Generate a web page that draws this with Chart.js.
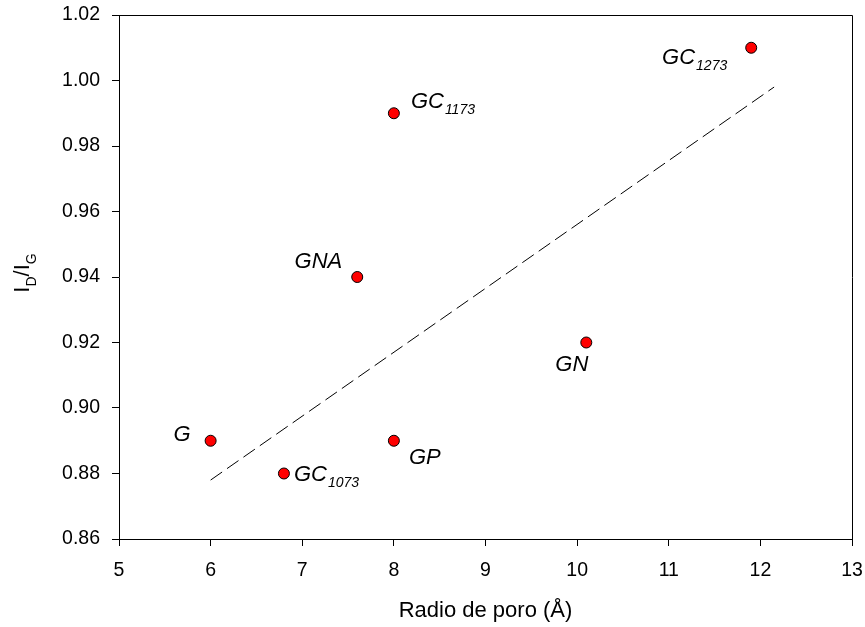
<!DOCTYPE html>
<html lang="es">

<head>
    <meta charset="UTF-8">
    <title>ID/IG vs radio de poro</title>
    <script src="https://cdn.jsdelivr.net/npm/chart.js"></script>
    <style>
        html, body { margin: 0; padding: 0; background: #fff; }
        #box { width: 865px; height: 627px; }
    </style>
</head>

<body>
    <div id="box">
        <canvas id="chartPoro"></canvas>
    </div>

<script>
    // Datos
    const radioPoro = [6, 6.8, 7.6, 8, 8, 10.1, 11.9]
    const razonIDIG = [0.89, 0.88, 0.94, 0.99, 0.89, 0.92, 1.01]
    const muestra = ['G', 'GC', 'GNA', 'GC', 'GP', 'GN', 'GC']
    const muestraSub = ['', '1073', '', '1173', '', '', '1273']

    // recta de tendencia (extremos leidos)
    const ajusteX = [6, 12.15]
    const ajusteY = [0.878, 0.998]

    // posicion de cada etiqueta respecto a su punto
    const etiquetaDx = [-20, 10, -15, 17, 15, 2, -24]
    const etiquetaDy = [0, 7, -9, -5, 23, 28, 16]
    const etiquetaAlign = ['right', 'left', 'right', 'left', 'left', 'right', 'right']

    const fuente = '"Liberation Sans", Arial, sans-serif'

    const puntos = radioPoro.map(function (x, i) { return { x: x, y: razonIDIG[i] } })
    const recta = ajusteX.map(function (x, i) { return { x: x, y: ajusteY[i] } })

    // sin margen extra por las etiquetas de los extremos
    function sinPadding(s) {
        s.paddingTop = 0
        s.paddingBottom = 0
        s.paddingLeft = 0
        s.paddingRight = 0
    }

    // marco superior/derecho + etiquetas de las muestras + titulo eje y
    const extras = {
        id: 'extras',
        afterDraw(chart) {
            const ctx = chart.ctx
            const a = chart.chartArea
            const sx = chart.scales.x
            const sy = chart.scales.y

            ctx.save()
            ctx.strokeStyle = '#000'
            ctx.lineWidth = 1
            ctx.beginPath()
            ctx.moveTo(Math.round(a.left) + 0.5, Math.round(a.top) + 0.5)
            ctx.lineTo(Math.round(a.right) + 0.5, Math.round(a.top) + 0.5)
            ctx.lineTo(Math.round(a.right) + 0.5, Math.round(a.bottom) + 0.5)
            ctx.stroke()

            ctx.fillStyle = '#000'
            ctx.textBaseline = 'alphabetic'
            ctx.textAlign = 'left'
            for (let i = 0; i < radioPoro.length; i++) {
                const px = sx.getPixelForValue(radioPoro[i])
                const py = sy.getPixelForValue(razonIDIG[i])
                ctx.font = 'italic 22px ' + fuente
                const w1 = ctx.measureText(muestra[i]).width
                ctx.font = 'italic 14px ' + fuente
                const w2 = muestraSub[i] ? ctx.measureText(muestraSub[i]).width + 1 : 0
                let x0 = px + etiquetaDx[i]
                if (etiquetaAlign[i] == 'right') x0 -= (w1 + w2)
                const y0 = py + etiquetaDy[i]
                ctx.font = 'italic 22px ' + fuente
                ctx.fillText(muestra[i], x0, y0)
                if (muestraSub[i]) {
                    ctx.font = 'italic 14px ' + fuente
                    ctx.fillText(muestraSub[i], x0 + w1 + 1, y0 + 6)
                }
            }

            // I_D/I_G rotado
            const partes = [['I', 22, 0], ['D', 14, 7], ['/', 22, 0], ['I', 22, 0], ['G', 14, 7]]
            let total = 0
            partes.forEach(function (p) {
                ctx.font = p[1] + 'px ' + fuente
                total += ctx.measureText(p[0]).width
            })
            ctx.translate(29, 273)
            ctx.rotate(-Math.PI / 2)
            let cx = -total / 2
            partes.forEach(function (p) {
                ctx.font = p[1] + 'px ' + fuente
                ctx.fillText(p[0], cx, p[2])
                cx += ctx.measureText(p[0]).width
            })
            ctx.restore()
        }
    }

    new Chart(document.getElementById('chartPoro'), {
        type: 'scatter',
        data: {
            datasets: [{
                type: 'line',
                data: recta,
                borderColor: '#000',
                borderWidth: 1,
                borderDash: [14, 6],
                pointRadius: 0,
                fill: false
            }, {
                data: puntos,
                backgroundColor: '#ff0000',
                borderColor: '#000',
                borderWidth: 1,
                pointRadius: 5.5,
                pointHoverRadius: 5.5
            }]
        },
        options: {
            responsive: true,
            maintainAspectRatio: false,
            animation: false,
            layout: { padding: { top: 15, right: 13, left: 0, bottom: 0 } },
            plugins: {
                legend: { display: false },
                tooltip: { enabled: false }
            },
            scales: {
                x: {
                    type: 'linear',
                    min: 5,
                    max: 13,
                    afterFit: function (s) { s.height = 88; sinPadding(s) },
                    ticks: {
                        stepSize: 1,
                        color: '#000',
                        padding: 13,
                        font: { family: fuente, size: 19.5 }
                    },
                    grid: { drawOnChartArea: false, tickLength: 7, color: '#000' },
                    border: { color: '#000', width: 1 },
                    title: {
                        display: true,
                        text: 'Radio de poro (Å)',
                        color: '#000',
                        font: { family: fuente, size: 22 },
                        padding: { top: 0, bottom: 3 }
                    }
                },
                y: {
                    min: 0.86,
                    max: 1.02,
                    afterFit: function (s) { s.width = 119; sinPadding(s) },
                    ticks: {
                        stepSize: 0.02,
                        color: '#000',
                        padding: 12,
                        font: { family: fuente, size: 19.5 },
                        callback: function (v) { return v.toFixed(2) }
                    },
                    grid: { drawOnChartArea: false, tickLength: 7, color: '#000' },
                    border: { color: '#000', width: 1 }
                }
            }
        },
        plugins: [extras]
    })
</script>
</body>

</html>
